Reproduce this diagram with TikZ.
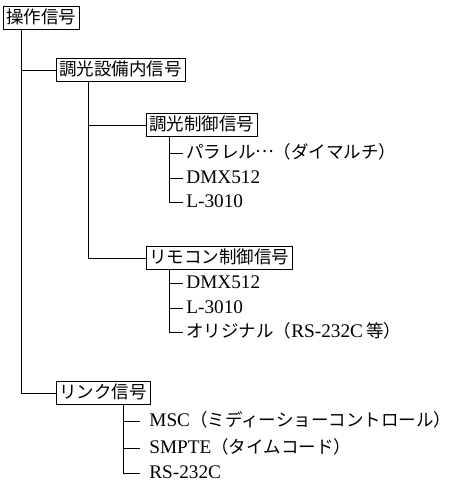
\documentclass[tikz,border=0pt]{standalone}
\usepackage{fontspec}
\setmainfont{Liberation Serif}[Scale=1.1]
\newfontfamily\jp{Noto Sans CJK JP}
\begin{document}
\begin{tikzpicture}[x=1pt,y=-1pt,
  line width=0.8pt,
  box/.style={draw, anchor=west, font=\jp\fontsize{17.5}{20}\selectfont, inner xsep=3pt, inner ysep=3pt, text height=14pt, text depth=3pt},
  leaf/.style={anchor=west, font=\fontsize{17.5}{20}\selectfont, inner xsep=3pt, inner ysep=0pt, text height=13pt, text depth=3pt},
  leafb/.style={leaf, inner xsep=9pt},
  conn/.style={draw, line width=0.8pt}]
\useasboundingbox (0,0) rectangle (450,482);
\node[box] (root) at (3,18) {操作信号};
\node[box] (equip) at (56,70) {調光設備内信号};
\node[box] (dim) at (146,125) {調光制御信号};
\node[box] (remote) at (146,258) {リモコン制御信号};
\node[box] (link) at (56,393) {リンク信号};
\node[leaf] (d1) at (183,153) {{\jp パラレル\makebox[1em]{\raisebox{0.3em}{…}}（ダイマルチ）}};
\node[leaf] (d2) at (183,178) {DMX512};
\node[leaf] (d3) at (183,202) {L-3010};
\node[leaf] (r1) at (183,283) {DMX512};
\node[leaf] (r2) at (183,308) {L-3010};
\node[leaf] (r3) at (183,332) {{\jp オリジナル（}RS-232C\,{\jp 等）}};
\node[leafb] (l1) at (140,421) {MSC{\jp （ミディーショーコントロール）}};
\node[leafb] (l2) at (140,448) {SMPTE{\jp （タイムコード）}};
\node[leafb] (l3) at (140,473) {RS-232C};
\draw[conn] ([xshift=18pt]root.south west) |- (equip.west);
\draw[conn] ([xshift=18pt]root.south west) |- (link.west);
\draw[conn] ([xshift=32pt]equip.south west) |- (dim.west);
\draw[conn] ([xshift=32pt]equip.south west) |- (remote.west);
\draw[conn] ([xshift=23pt]dim.south west) |- (d1.west);
\draw[conn] ([xshift=23pt]dim.south west) |- (d2.west);
\draw[conn] ([xshift=23pt]dim.south west) |- (d3.west);
\draw[conn] ([xshift=23pt]remote.south west) |- (r1.west);
\draw[conn] ([xshift=23pt]remote.south west) |- (r2.west);
\draw[conn] ([xshift=23pt]remote.south west) |- (r3.west);
\draw[conn] ([xshift=67pt]link.south west) |- (l1.west);
\draw[conn] ([xshift=67pt]link.south west) |- (l2.west);
\draw[conn] ([xshift=67pt]link.south west) |- (l3.west);
\end{tikzpicture}
\end{document}
